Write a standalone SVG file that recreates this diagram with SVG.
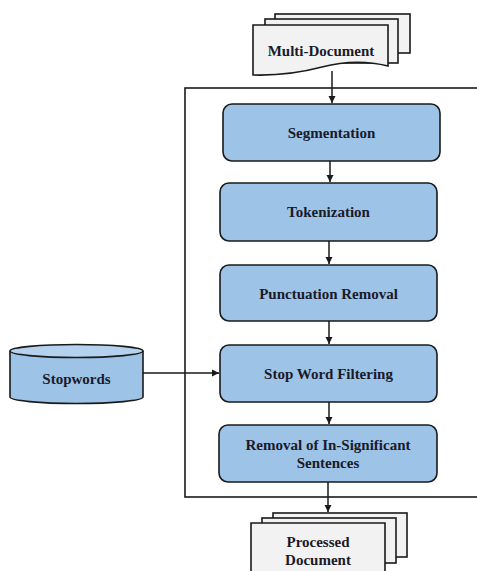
<svg xmlns="http://www.w3.org/2000/svg" width="477" height="571" viewBox="0 0 477 571">
<style>
.box{fill:#9dc3e6;stroke:#1a1a1a;stroke-width:1.6}
.doc{fill:#f2f2f2;stroke:#1a1a1a;stroke-width:1.6}
.lbl{font-family:"Liberation Serif","Times New Roman",serif;font-weight:bold;font-size:15px;fill:#1a1a2a;text-anchor:middle;dominant-baseline:central}
.con{stroke:#1a1a1a;stroke-width:1.5;fill:none}
</style>
<defs>
<marker id="ah" markerWidth="8" markerHeight="8" refX="7" refY="4" orient="auto" markerUnits="userSpaceOnUse">
<path d="M0,0.5 L7,4 L0,7.5 Z" fill="#1a1a1a"/>
</marker>
</defs>
<rect x="185" y="88" width="300" height="409" fill="none" stroke="#1a1a1a" stroke-width="1.6"/>
<g id="multi-document">
<rect class="doc" x="275" y="14" width="135" height="39"/>
<rect class="doc" x="265" y="19" width="133" height="44"/>
<path class="doc" d="M253,25 H388 V66 Q356,58 322,67 T253,75 Z"/>
<text class="lbl" x="321" y="51">Multi-Document</text>
</g>
<g id="segmentation">
<rect class="box" x="223" y="104" width="217" height="57" rx="9"/>
<text class="lbl" x="331.5" y="133">Segmentation</text>
</g>
<g id="tokenization">
<rect class="box" x="220" y="183" width="217" height="58" rx="9"/>
<text class="lbl" x="328.5" y="212">Tokenization</text>
</g>
<g id="punctuation-removal">
<rect class="box" x="220" y="265" width="217" height="56" rx="9"/>
<text class="lbl" x="328.5" y="294">Punctuation Removal</text>
</g>
<g id="stop-word-filtering">
<rect class="box" x="220" y="345" width="217" height="57" rx="9"/>
<text class="lbl" x="328.5" y="374">Stop Word Filtering</text>
</g>
<g id="removal">
<rect class="box" x="219" y="425" width="218" height="57" rx="9"/>
<text class="lbl" x="328" y="445">Removal of In-Significant</text>
<text class="lbl" x="328" y="463">Sentences</text>
</g>
<g id="stopwords">
<path class="box" d="M10,351 V397 A66.5,6.5 0 0 0 143,397 V351"/>
<ellipse class="box" cx="76.5" cy="351" rx="66.5" ry="6.5" style="fill:#b4d2ee"/>
<text class="lbl" x="76.5" y="379">Stopwords</text>
</g>
<g id="processed-document">
<rect class="doc" x="273" y="513" width="134" height="44"/>
<rect class="doc" x="262" y="518" width="134" height="45"/>
<path class="doc" d="M251,523 H385 V580 H251 Z"/>
<text class="lbl" x="318" y="542">Processed</text>
<text class="lbl" x="318" y="560">Document</text>
</g>
<g id="connectors">
<line class="con" x1="332" y1="71" x2="332" y2="103" marker-end="url(#ah)"/>
<line class="con" x1="330" y1="161" x2="330" y2="182" marker-end="url(#ah)"/>
<line class="con" x1="329" y1="241" x2="329" y2="264" marker-end="url(#ah)"/>
<line class="con" x1="329" y1="321" x2="329" y2="344" marker-end="url(#ah)"/>
<line class="con" x1="329" y1="402" x2="329" y2="424" marker-end="url(#ah)"/>
<line class="con" x1="328" y1="482" x2="328" y2="512" marker-end="url(#ah)"/>
<line class="con" x1="143" y1="373" x2="219" y2="373" marker-end="url(#ah)"/>
</g>
</svg>
